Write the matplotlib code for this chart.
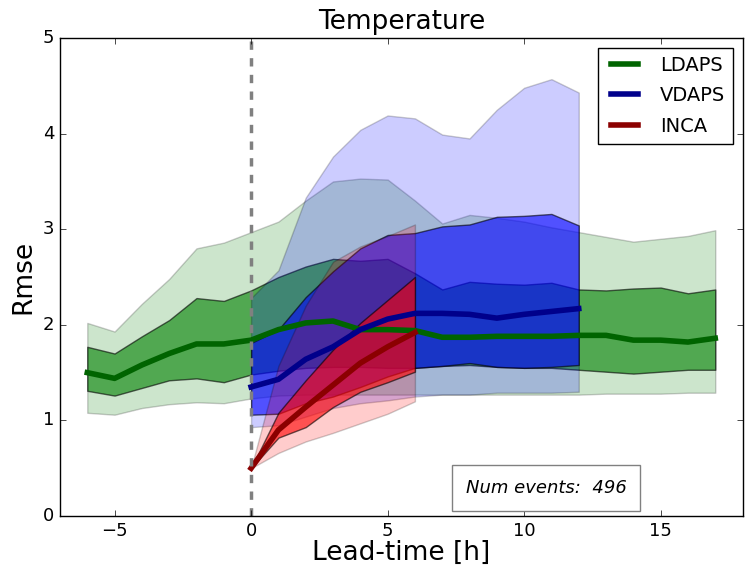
import matplotlib
matplotlib.use('Agg')
import matplotlib.pyplot as plt
import numpy as np

plt.style.use('classic')

# Lead times for each model
t_ldaps = np.arange(-6, 18)
t_vdaps = np.arange(0, 13)
t_inca = np.arange(0, 7)

# LDAPS: median, quartiles, outer percentiles
ldaps_med = [1.50, 1.44, 1.58, 1.70, 1.80, 1.80, 1.84, 1.95, 2.02, 2.04, 1.95, 1.95, 1.94,
             1.87, 1.87, 1.88, 1.88, 1.88, 1.89, 1.89, 1.84, 1.84, 1.82, 1.86]
ldaps_q75 = [1.77, 1.70, 1.88, 2.05, 2.28, 2.25, 2.36, 2.50, 2.61, 2.69, 2.67, 2.69, 2.54,
             2.37, 2.45, 2.43, 2.42, 2.44, 2.37, 2.36, 2.38, 2.39, 2.33, 2.37]
ldaps_q25 = [1.31, 1.26, 1.34, 1.42, 1.44, 1.40, 1.48, 1.52, 1.55, 1.56, 1.56, 1.55, 1.55,
             1.57, 1.58, 1.56, 1.55, 1.55, 1.53, 1.51, 1.49, 1.51, 1.53, 1.53]
ldaps_hi = [2.02, 1.93, 2.22, 2.48, 2.80, 2.86, 2.97, 3.08, 3.30, 3.50, 3.53, 3.52, 3.30,
            3.06, 3.15, 3.12, 3.08, 3.02, 2.97, 2.92, 2.87, 2.90, 2.93, 2.99]
ldaps_lo = [1.08, 1.06, 1.13, 1.17, 1.19, 1.18, 1.23, 1.26, 1.27, 1.27, 1.27, 1.27, 1.27,
            1.27, 1.27, 1.27, 1.27, 1.27, 1.27, 1.28, 1.28, 1.28, 1.29, 1.29]

# VDAPS
vdaps_med = [1.35, 1.43, 1.64, 1.77, 1.95, 2.06, 2.12, 2.12, 2.11, 2.07, 2.11, 2.14, 2.17]
vdaps_q75 = [1.81, 1.95, 2.29, 2.56, 2.80, 2.94, 2.96, 3.03, 3.05, 3.13, 3.14, 3.16, 3.04]
vdaps_q25 = [1.06, 1.07, 1.18, 1.25, 1.35, 1.46, 1.55, 1.57, 1.60, 1.56, 1.55, 1.56, 1.58]
vdaps_hi = [2.28, 2.57, 3.33, 3.76, 4.04, 4.19, 4.16, 3.99, 3.95, 4.25, 4.48, 4.57, 4.43]
vdaps_lo = [0.93, 0.95, 1.04, 1.13, 1.18, 1.21, 1.25, 1.27, 1.27, 1.29, 1.29, 1.29, 1.30]

# INCA
inca_med = [0.50, 0.90, 1.14, 1.37, 1.60, 1.77, 1.92]
inca_q75 = [0.50, 1.08, 1.42, 1.74, 2.02, 2.26, 2.50]
inca_q25 = [0.50, 0.82, 0.93, 1.14, 1.30, 1.40, 1.51]
inca_hi = [0.50, 1.57, 2.20, 2.66, 2.82, 2.93, 3.05]
inca_lo = [0.50, 0.66, 0.78, 0.87, 0.97, 1.07, 1.20]

models = [
    ('LDAPS', t_ldaps, ldaps_med, ldaps_q25, ldaps_q75, ldaps_lo, ldaps_hi, 'green', '#006400'),
    ('VDAPS', t_vdaps, vdaps_med, vdaps_q25, vdaps_q75, vdaps_lo, vdaps_hi, 'blue', '#00008b'),
    ('INCA', t_inca, inca_med, inca_q25, inca_q75, inca_lo, inca_hi, 'red', '#8b0000'),
]

fig = plt.figure(figsize=(7.46, 5.69), dpi=100, facecolor='white')
ax = fig.add_axes([0.0804, 0.0931, 0.915, 0.840])

# Bands first, then median lines on top
for name, t, med, q25, q75, lo, hi, fc, lc in models:
    ax.fill_between(t, lo, hi, facecolor=fc, edgecolor='k', alpha=0.2, linewidth=1)
    ax.fill_between(t, q25, q75, facecolor=fc, edgecolor='k', alpha=0.6, linewidth=1)

for name, t, med, q25, q75, lo, hi, fc, lc in models:
    ax.plot(t, med, color=lc, linewidth=4, label=name)

ax.axvline(0, color='grey', linestyle='--', linewidth=2.5, dashes=(6, 6))

ax.set_xlim(-7, 18)
ax.set_ylim(0, 5)
ax.set_xticks([-5, 0, 5, 10, 15])
ax.set_yticks([0, 1, 2, 3, 4, 5])
ax.tick_params(labelsize=13)
ax.set_xlabel('Lead-time [h]', fontsize=19, labelpad=0)
ax.set_ylabel('Rmse', fontsize=19)
ax.set_title('Temperature', fontsize=19, y=1.005)

leg = ax.legend(loc='upper right', fontsize=14, handlelength=2.0, labelspacing=0.6)

ax.text(10.8, 0.29, 'Num events:  496', fontsize=13, style='italic',
        ha='center', va='center',
        bbox=dict(facecolor='white', edgecolor='grey', pad=10))

plt.savefig('out.png', dpi=100)
